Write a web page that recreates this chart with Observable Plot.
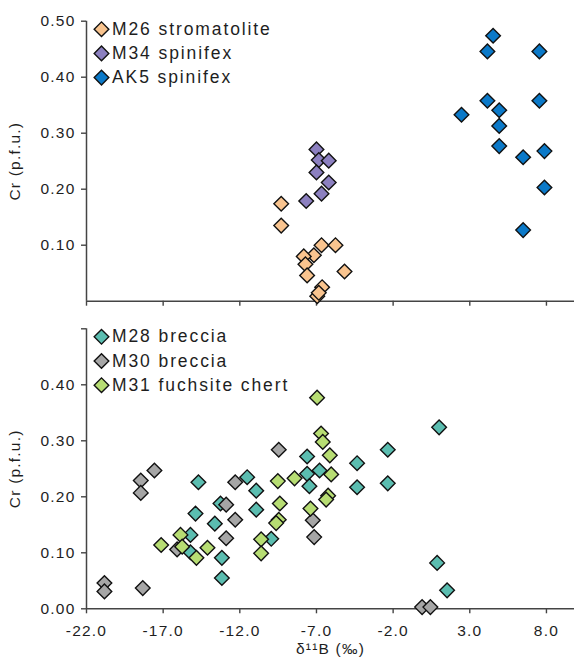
<!DOCTYPE html>
<html><head><meta charset="utf-8">
<script src="https://cdn.jsdelivr.net/npm/d3@7"></script>
<script src="https://cdn.jsdelivr.net/npm/@observablehq/plot@0.6"></script>
<style>
body{margin:0;background:#fff;}
#chart{width:574px;height:663px;position:relative;overflow:hidden;}
#chart svg{display:block;}
#chart g[font-size="17.5"]{letter-spacing:1.9px;}
#chart g[font-size="15.5"]{letter-spacing:1.2px;}
</style></head><body><div id="chart"></div>
<script>
// ---- axes ----
const xTicks = [-22, -17, -12, -7, -2, 3, 8];
const xDomain = [-22, 9.83];
const yDomain = [0, 0.5];
const yTicksTop = [0.1, 0.2, 0.3, 0.4, 0.5];
const yTicksBottom = [0, 0.1, 0.2, 0.3, 0.4, 0.5];
const yLabel = "Cr (p.f.u.)";
const xLabel = "δ¹¹B (‰)";

// ---- top panel series ----
const topNames = ["M26 stromatolite", "M34 spinifex", "AK5 spinifex"];
const topColors = ["#F9C48F", "#8C80C0", "#0B79C8"];
const m26X = [-9.30, -9.30, -6.67, -5.76, -7.17, -7.83, -7.72, -7.61, -5.17, -6.63, -6.95, -6.85];
const m26Y = [0.174, 0.135, 0.100, 0.100, 0.082, 0.080, 0.066, 0.046, 0.053, 0.025, 0.009, 0.015];
const m34X = [-7.00, -6.85, -6.20, -7.00, -6.20, -6.67, -7.67];
const m34Y = [0.271, 0.252, 0.251, 0.230, 0.212, 0.192, 0.179];
const ak5X = [4.52, 4.15, 7.54, 4.15, 7.54, 2.46, 4.92, 4.92, 4.92, 6.48, 7.87, 7.87, 6.48];
const ak5Y = [0.474, 0.446, 0.446, 0.358, 0.358, 0.333, 0.341, 0.313, 0.277, 0.257, 0.268, 0.203, 0.127];

// ---- bottom panel series ----
const bottomNames = ["M28 breccia", "M30 breccia", "M31 fuchsite chert"];
const bottomColors = ["#5BBDB0", "#A6A6A6", "#B7DD73"];
const m28X = [-14.70, -14.89, -15.22, -15.22, -13.26, -13.63, -13.17, -13.17, -11.52, -10.93, -10.93, -9.95, -7.61, -7.61, -6.80, -7.46, -4.35, -4.35, -2.35, -2.35, 1.00, 0.87, 1.52];
const m28Y = [0.226, 0.170, 0.132, 0.101, 0.188, 0.152, 0.091, 0.055, 0.235, 0.211, 0.177, 0.125, 0.272, 0.241, 0.247, 0.219, 0.260, 0.217, 0.284, 0.224, 0.324, 0.082, 0.033];
const m30X = [-20.83, -20.83, -18.33, -18.46, -18.46, -17.57, -16.09, -12.30, -12.89, -12.30, -12.89, -9.46, -7.24, -7.15, -0.11, 0.43];
const m30Y = [0.046, 0.031, 0.037, 0.229, 0.207, 0.247, 0.106, 0.226, 0.186, 0.159, 0.126, 0.284, 0.158, 0.128, 0.003, 0.003];
const m31X = [-17.13, -15.87, -15.76, -14.83, -14.11, -10.61, -10.61, -9.52, -9.39, -9.46, -9.63, -8.43, -6.96, -6.70, -6.59, -6.13, -6.04, -6.24, -6.37, -7.39];
const m31Y = [0.114, 0.132, 0.111, 0.091, 0.109, 0.124, 0.099, 0.228, 0.188, 0.159, 0.153, 0.233, 0.377, 0.313, 0.298, 0.274, 0.240, 0.202, 0.195, 0.179];

const FONT = "'Liberation Sans', Arial, Helvetica, sans-serif";
const AXIS = "#444";
const TEXT = "#1e1e1e";
const R = 6.6;

function rows(xs, ys, name) { return xs.map((x, i) => ({x, y: ys[i], name})); }

function panel({data, names, colors, height, marginTop, marginBottom, yTicks, yFmt, xLabels}) {
  const legendMarks = names.flatMap((n, i) => [
    Plot.dot([n], {frameAnchor: "top-left", dx: 15, dy: 8 + 24.2 * i, fill: colors[i], stroke: "#111",
      strokeWidth: 1.4, symbol: "diamond2", r: R}),
    Plot.text([n], {frameAnchor: "top-left", dx: 25.5, dy: 8 + 24.2 * i, text: d => d, textAnchor: "start",
      lineAnchor: "middle", fontSize: 17.5, fill: TEXT})
  ]);
  return Plot.plot({
    width: 574, height, marginLeft: 86, marginRight: 0, marginTop, marginBottom,
    style: {fontFamily: FONT, background: "#fff", color: TEXT, overflow: "visible"},
    x: {domain: xDomain}, y: {domain: yDomain},
    color: {domain: names, range: colors},
    marks: [
      Plot.axisY({ticks: yTicks, tickFormat: yFmt, tickSize: 5, tickPadding: 6, fontSize: 15.5,
        stroke: AXIS, strokeWidth: 1.4, fill: TEXT, label: null}),
      Plot.axisX({ticks: xTicks, tickFormat: xLabels ? (d => d.toFixed(1)) : (() => ""), tickSize: 5,
        tickPadding: 11.5, fontSize: 15.5, stroke: AXIS, strokeWidth: 1.4, fill: TEXT, label: null}),
      Plot.ruleX([xDomain[0]], {y1: yDomain[0], y2: yDomain[1], stroke: AXIS, strokeWidth: 1.5}),
      Plot.ruleY([yDomain[0]], {stroke: AXIS, strokeWidth: 1.5}),
      Plot.text([yLabel], {frameAnchor: "left", dx: -71, rotate: -90, text: d => d, fontSize: 15.5,
        fill: TEXT, lineAnchor: "middle", textAnchor: "middle"}),
      ...(xLabels ? [Plot.text([xLabel], {frameAnchor: "bottom", dy: 40, text: d => d, fontSize: 15.5,
        fill: TEXT, lineAnchor: "middle", textAnchor: "middle"})] : []),
      Plot.dot(data, {x: "x", y: "y", fill: "name", stroke: "#111", strokeWidth: 1.4, symbol: "diamond2", r: R}),
      ...legendMarks
    ]
  });
}

const topData = [...rows(m26X, m26Y, topNames[0]), ...rows(m34X, m34Y, topNames[1]), ...rows(ak5X, ak5Y, topNames[2])];
const bottomData = [...rows(m28X, m28Y, bottomNames[0]), ...rows(m30X, m30Y, bottomNames[1]), ...rows(m31X, m31Y, bottomNames[2])];

const topPanel = panel({data: topData, names: topNames, colors: topColors, height: 310, marginTop: 20.7,
  marginBottom: 9.3, yTicks: yTicksTop, yFmt: d => d.toFixed(2), xLabels: false});
const bottomPanel = panel({data: bottomData, names: bottomNames, colors: bottomColors, height: 353, marginTop: 18.3,
  marginBottom: 54.7, yTicks: yTicksBottom, yFmt: d => (d === 0.5 ? "" : d.toFixed(2)), xLabels: true});

document.getElementById("chart").append(topPanel, bottomPanel);
</script></body></html>
